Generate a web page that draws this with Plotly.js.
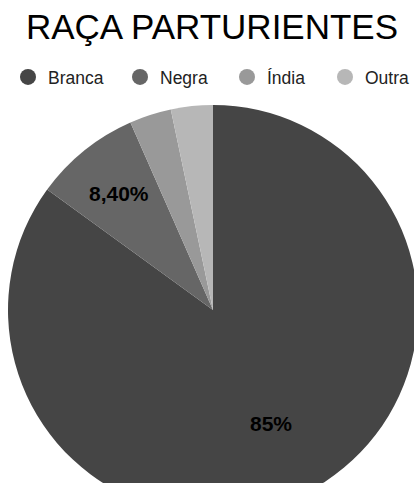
<!DOCTYPE html>
<html>
<head>
<meta charset="utf-8">
<script src="https://cdn.plot.ly/plotly-3.0.1.min.js"></script>
<style>
html,body{margin:0;padding:0;overflow:hidden;background:#fff;width:414px;height:483px;}
#chart{width:420px;height:520px;}
</style>
</head>
<body>
<div id="chart"></div>
<script>
const categories = ['Branca', 'Negra', 'Índia', 'Outra'];
const values = [85, 8.4, 3.3, 3.3];
const sliceLabels = ['85%', '8,40%', '', ''];
const colors = ['#454545', '#666666', '#999999', '#b7b7b7'];
const legendX = [16, 128, 235, 333];
const labelRadius = [0.62, 0.73, 0.7, 0.7];

const W = 420, H = 520;
const dom = {x: [8 / W, 418 / W], y: [1 - 515 / H, 1 - 105 / H]};

const traces = [{
  type: 'pie',
  labels: categories,
  values: values,
  textinfo: 'none',
  marker: {colors: colors, line: {width: 0}},
  sort: false,
  direction: 'clockwise',
  rotation: 0,
  showlegend: false,
  hoverinfo: 'label+percent',
  domain: dom
}];

categories.forEach((c, i) => {
  traces.push({
    type: 'scatter', mode: 'markers',
    x: [null], y: [null],
    name: c,
    marker: {symbol: 'circle', size: 20, color: colors[i]},
    showlegend: true,
    legend: i === 0 ? 'legend' : 'legend' + (i + 1),
    hoverinfo: 'skip'
  });
});

// slice labels placed along each slice's bisector, derived from the values
const total = values.reduce((a, b) => a + b, 0);
const cxPx = (dom.x[0] + dom.x[1]) / 2 * W;
const cyPx = (1 - (dom.y[0] + dom.y[1]) / 2) * H;
const rPx = Math.min((dom.x[1] - dom.x[0]) * W, (dom.y[1] - dom.y[0]) * H) / 2;
const annotations = [];
let cum = 0;
values.forEach((v, i) => {
  const mid = (cum + v / 2) / total * 2 * Math.PI;
  cum += v;
  if (!sliceLabels[i]) return;
  const d = rPx * labelRadius[i];
  annotations.push({
    xref: 'paper', yref: 'paper',
    x: (cxPx + d * Math.sin(mid)) / W,
    y: 1 - (cyPx - d * Math.cos(mid)) / H,
    text: sliceLabels[i], showarrow: false,
    xanchor: 'center', yanchor: 'middle',
    font: {family: 'Liberation Sans, Arial, sans-serif', size: 21, color: '#000', weight: 'bold'}
  });
});

const legFont = {family: 'Liberation Sans, Arial, sans-serif', size: 17.5, color: '#222'};
const layout = {
  width: W, height: H,
  margin: {l: 0, r: 0, t: 0, b: 0},
  paper_bgcolor: '#fff', plot_bgcolor: '#fff',
  title: {
    text: 'RAÇA PARTURIENTES',
    font: {family: 'Liberation Sans, Arial, sans-serif', size: 35, color: '#000'},
    x: 212 / W, xanchor: 'center',
    y: 1 - 27 / H, yanchor: 'middle', yref: 'container'
  },
  xaxis: {visible: false, domain: [0, 0.01]},
  yaxis: {visible: false, domain: [0, 0.01]},
  annotations: annotations,
  showlegend: true
};
['legend', 'legend2', 'legend3', 'legend4'].forEach((k, i) => {
  layout[k] = {
    orientation: 'h', x: (legendX[i] - 8) / W, xanchor: 'left',
    y: 1 - 77 / H, yanchor: 'middle',
    font: legFont, bgcolor: 'rgba(0,0,0,0)', itemclick: false, itemdoubleclick: false
  };
});

Plotly.newPlot('chart', traces, layout, {displayModeBar: false, staticPlot: true});
</script>
</body>
</html>
